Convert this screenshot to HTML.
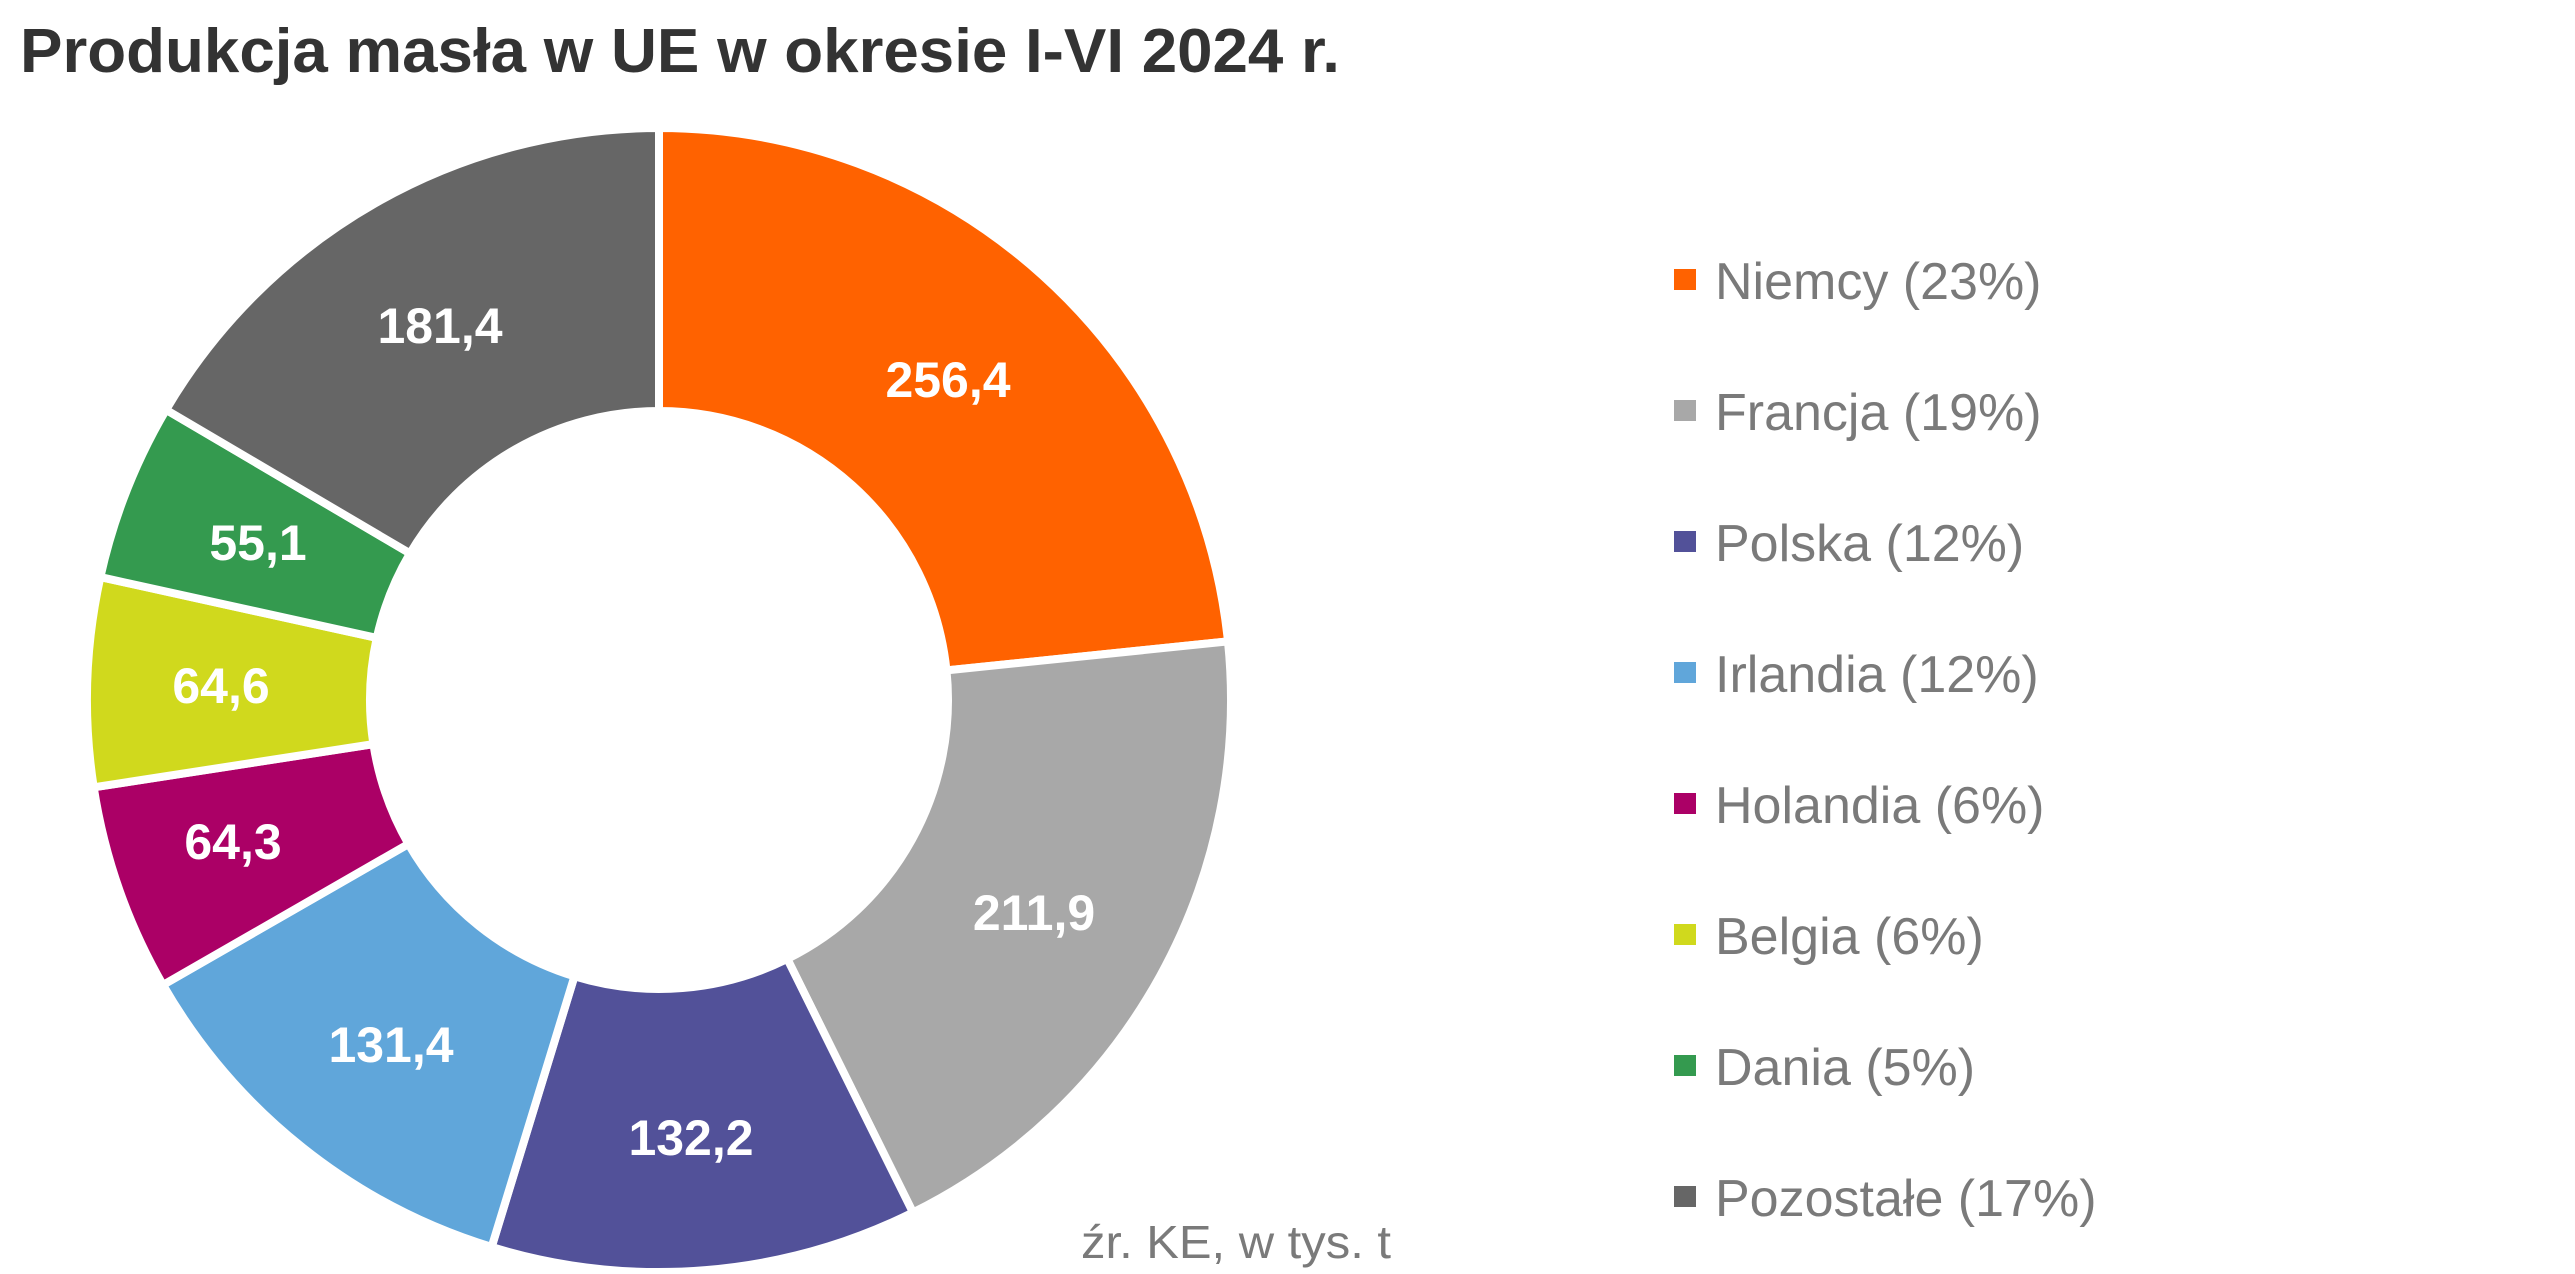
<!DOCTYPE html>
<html><head><meta charset="utf-8"><style>
html,body{margin:0;padding:0;background:#fff;}
svg{display:block;}
</style></head><body>
<svg id="s" width="2575" height="1274" xmlns="http://www.w3.org/2000/svg">
<text x="20" y="72" font-family="Liberation Sans, sans-serif" font-weight="bold" font-size="62" fill="#333" textLength="1320" lengthAdjust="spacingAndGlyphs">Produkcja masła w UE w okresie I-VI 2024 r.</text>
<g id="pie"></g>
<g font-family="Liberation Sans, sans-serif" font-weight="bold" font-size="50" fill="#fff" text-anchor="middle">
<text x="948" y="397">256,4</text>
<text x="1034" y="930">211,9</text>
<text x="691" y="1155">132,2</text>
<text x="391" y="1062">131,4</text>
<text x="233" y="859">64,3</text>
<text x="221" y="703">64,6</text>
<text x="258" y="560">55,1</text>
<text x="440" y="343">181,4</text>
</g>
<g id="leg" font-family="Liberation Sans, sans-serif" font-size="52" fill="#7a7a7a"></g>
<text x="1081" y="1258" font-family="Liberation Sans, sans-serif" font-size="46" fill="#7a7a7a" textLength="310" lengthAdjust="spacingAndGlyphs">źr. KE, w tys. t</text>
</svg>
<script>
var d=[[256.4,"#ff6200","Niemcy (23%)"],[211.9,"#a8a8a8","Francja (19%)"],[132.2,"#525199","Polska (12%)"],[131.4,"#60a6da","Irlandia (12%)"],[64.3,"#ab0066","Holandia (6%)"],[64.6,"#d0d91d","Belgia (6%)"],[55.1,"#349a4f","Dania (5%)"],[181.4,"#666666","Pozostałe (17%)"]];
var tot=0;d.forEach(function(x){tot+=x[0];});
var cx=659,cy=700,R=572,r=289,a=0,g=document.getElementById('pie'),L=document.getElementById('leg'),ns="http://www.w3.org/2000/svg";
function p(rad,ang){return [cx+rad*Math.sin(ang),cy-rad*Math.cos(ang)];}
d.forEach(function(x,i){
 var a0=a,a1=a+x[0]/tot*2*Math.PI;a=a1;
 var A=p(R,a0),B=p(R,a1),C=p(r,a1),D=p(r,a0),lg=(a1-a0>Math.PI)?1:0;
 var e=document.createElementNS(ns,'path');
 e.setAttribute('d','M'+A+' A'+R+','+R+' 0 '+lg+' 1 '+B+' L'+C+' A'+r+','+r+' 0 '+lg+' 0 '+D+'Z');
 e.setAttribute('fill',x[1]);e.setAttribute('stroke','#fff');e.setAttribute('stroke-width','8');e.setAttribute('stroke-linejoin','miter');
 g.appendChild(e);
 var y=280+i*131;
 var q=document.createElementNS(ns,'rect');q.setAttribute('x',1674);q.setAttribute('y',y-11);q.setAttribute('width',22);q.setAttribute('height',21);q.setAttribute('fill',x[1]);L.appendChild(q);
 var t=document.createElementNS(ns,'text');t.setAttribute('x',1715);t.setAttribute('y',y+19);t.textContent=x[2];L.appendChild(t);
});
</script>
</body></html>
